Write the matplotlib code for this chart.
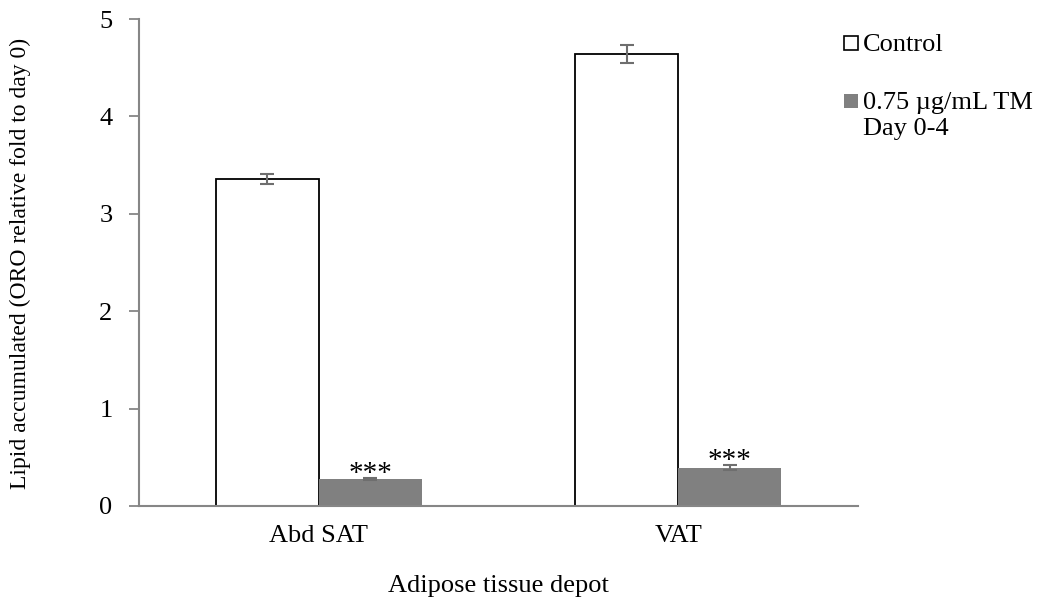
import numpy as np
import matplotlib
matplotlib.use("Agg")
import matplotlib.pyplot as plt
from matplotlib.patches import Rectangle

# data
depots = ["Abd SAT", "VAT"]
control_vals = [3.36, 4.64]
control_err = [0.05, 0.095]
tm_vals = [0.275, 0.395]
tm_err = [0.012, 0.028]
significance = ["***", "***"]
series_labels = ["Control", "0.75 µg/mL TM\nDay 0-4"]
yticks = [0, 1, 2, 3, 4, 5]

plt.rcParams['font.family'] = ['Liberation Serif', 'DejaVu Serif']
fs = 19
spine_col = "#868686"
gray = "#808080"

fig = plt.figure(figsize=(10.46, 6.08), dpi=100)
ax = fig.add_axes([139 / 1046, 1 - 506 / 608, (858 - 139) / 1046, (506 - 19) / 608])

x = np.arange(len(depots))
width = 0.2865

ax.bar(x - width / 2, control_vals, width, color="white", edgecolor="black", linewidth=1.3, zorder=2)
ax.bar(x + width / 2, tm_vals, width, color=gray, edgecolor="none", zorder=2)
ax.errorbar(x - width / 2, control_vals, yerr=control_err, fmt="none", ecolor="#6e6e6e",
            elinewidth=1.5, capsize=5, capthick=1.5, zorder=3)
ax.errorbar(x + width / 2, tm_vals, yerr=tm_err, fmt="none", ecolor="#6e6e6e",
            elinewidth=1.5, capsize=5, capthick=1.5, zorder=3)

for xi, v, e, s in zip(x, tm_vals, tm_err, significance):
    ax.text(xi + width / 2, v + e - 0.09, s, ha="center", va="bottom", fontsize=fs + 2)

ax.set_xlim(-0.5, len(depots) - 0.5)
ax.set_ylim(0, 5)
ax.set_yticks(yticks)
ax.set_xticks(x)
ax.set_xticklabels(depots, fontsize=fs)
ax.tick_params(axis="y", labelsize=fs, length=7, width=1.3, color=spine_col, direction="out", pad=12)
ax.tick_params(axis="x", length=0, pad=14)

for side in ["top", "right"]:
    ax.spines[side].set_visible(False)
for side in ["left", "bottom"]:
    ax.spines[side].set_color(spine_col)
    ax.spines[side].set_linewidth(1.5)

fig.text(20 / 1046, 1 - 263 / 608, "Lipid accumulated (ORO relative fold to day 0)",
         rotation=90, ha="center", va="center", fontsize=17)
fig.text((139 + 858) / 2 / 1046, 1 - 586 / 608, "Adipose tissue depot", ha="center", va="center", fontsize=fs)

# legend drawn by hand, Excel style
leg_y = [43, 101]
leg_fc = ["white", gray]
leg_ec = ["black", "none"]
for yy, fc, ec, lab in zip(leg_y, leg_fc, leg_ec, series_labels):
    fig.patches.append(Rectangle((844 / 1046, 1 - (yy + 7) / 608), 14 / 1046, 14 / 608,
                                 transform=fig.transFigure, facecolor=fc, edgecolor=ec, linewidth=1.2))
    fig.text(863 / 1046, 1 - (yy - 9) / 608, lab, ha="left", va="top", fontsize=fs, linespacing=1.25)

fig.savefig("out.png", dpi=100)
